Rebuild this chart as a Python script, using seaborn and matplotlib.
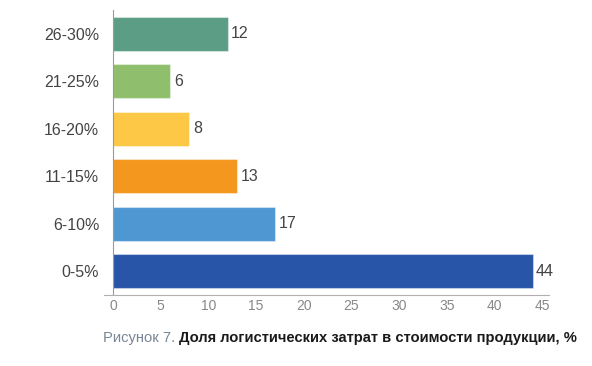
import matplotlib
matplotlib.use("Agg")
import matplotlib.pyplot as plt
import pandas as pd
import seaborn as sns

# data (top to bottom)
categories = ["26-30%", "21-25%", "16-20%", "11-15%", "6-10%", "0-5%"]
values = [12, 6, 8, 13, 17, 44]
colors = ["#5b9e85", "#8fbf6c", "#fcc845", "#f4971e", "#4f97d2", "#2955a8"]
x_ticks = [0, 5, 10, 15, 20, 25, 30, 35, 40, 45]

caption_gray = "Рисунок 7. "
caption_bold = "Доля логистических затрат в стоимости продукции, %"

df = pd.DataFrame({"range": categories, "share": values})

sns.set_style("white")
plt.rcParams["font.family"] = ["Liberation Sans", "DejaVu Sans"]

fig = plt.figure(figsize=(5.92, 3.66), dpi=100)
ax = fig.add_axes([0.175, 0.194, 0.752, 0.779])

sns.barplot(
    data=df, y="range", x="share", hue="range", order=categories,
    palette=dict(zip(categories, colors)), legend=False, orient="h",
    width=0.72, saturation=1, edgecolor="#ffffff66", linewidth=0.8, ax=ax,
)

for c in ax.containers:
    ax.bar_label(c, padding=2.5, fontsize=11.5, color="#444444")

ax.set_xlim(-1, 45.7)
ax.set_ylim(len(categories) - 0.5, -0.5)
ax.set_xticks(x_ticks)
ax.tick_params(axis="x", length=0, pad=3, labelsize=10, labelcolor="#888888")
ax.tick_params(axis="y", length=0, pad=10, labelsize=11.5, labelcolor="#444444")
ax.set_xlabel("")
ax.set_ylabel("")

sns.despine(ax=ax, top=True, right=True)
ax.spines["left"].set_position(("data", 0))
ax.spines["left"].set_color("#9a9a9a")
ax.spines["bottom"].set_color("#b0b0b0")

t1 = fig.text(0.174, 0.076, caption_gray, fontsize=10.6, color="#7a8694",
              va="center", ha="left")
ax.annotate(caption_bold, xy=(1, 0.5), xycoords=t1, va="center", ha="left",
            fontsize=10.6, fontweight="bold", color="#1a1a1a",
            annotation_clip=False)

fig.savefig("out.png", dpi=100)
